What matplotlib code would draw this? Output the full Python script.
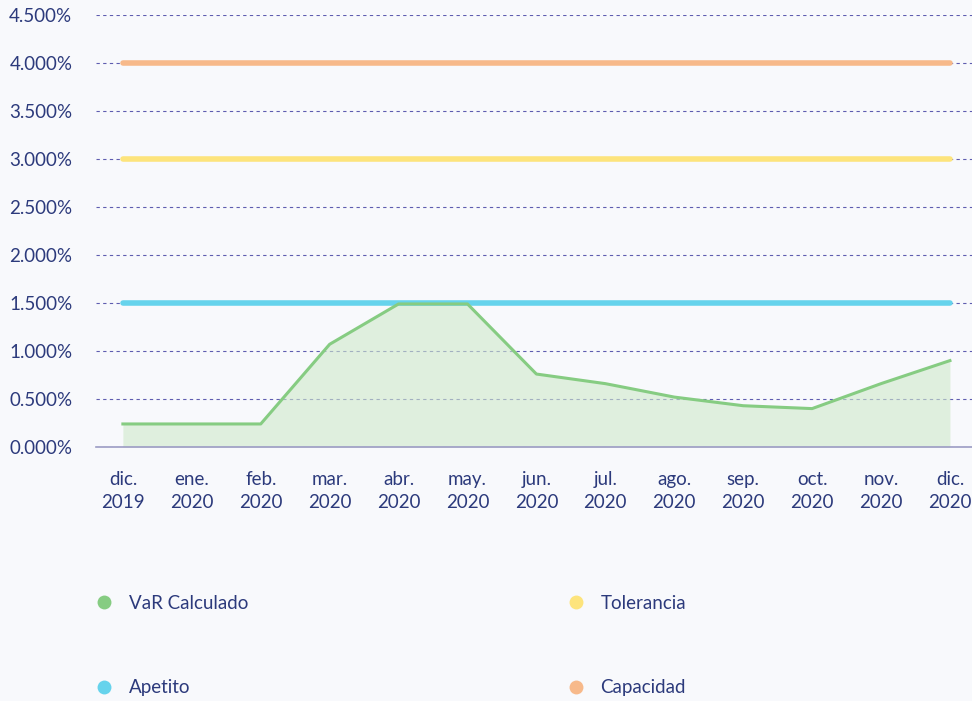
import matplotlib.pyplot as plt
from matplotlib.lines import Line2D
from matplotlib.ticker import FuncFormatter

# datos
meses = ['dic.\n2019', 'ene.\n2020', 'feb.\n2020', 'mar.\n2020', 'abr.\n2020', 'may.\n2020',
         'jun.\n2020', 'jul.\n2020', 'ago.\n2020', 'sep.\n2020', 'oct.\n2020', 'nov.\n2020',
         'dic.\n2020']
var_calculado = [0.24, 0.24, 0.24, 1.07, 1.49, 1.49, 0.76, 0.66, 0.52, 0.43, 0.40, 0.66, 0.90]
apetito = 1.5
tolerancia = 3.0
capacidad = 4.0

c_var = '#86cc82'
c_ape = '#66d3ec'
c_tol = '#fde47c'
c_cap = '#f7b98a'
c_txt = '#2c3a7c'
bg = '#f8f9fc'

plt.rcParams['font.family'] = ['Lato', 'DejaVu Sans']
plt.rcParams['font.size'] = 13

fig = plt.figure(figsize=(9.72, 7.01), dpi=100, facecolor=bg)
ax = fig.add_axes([96 / 972, 1 - 447 / 701, 1 - 96 / 972, (447 - 15) / 701])
ax.set_facecolor(bg)

x = list(range(len(meses)))
ax.fill_between(x, var_calculado, 0, color='#cfe9cb', alpha=0.6, lw=0, zorder=2)
ax.plot(x, var_calculado, color=c_var, lw=2.2, zorder=4)
ax.plot([x[0], x[-1]], [apetito] * 2, color=c_ape, lw=4, solid_capstyle='round', zorder=3)
ax.plot([x[0], x[-1]], [tolerancia] * 2, color=c_tol, lw=4, solid_capstyle='round', zorder=3)
ax.plot([x[0], x[-1]], [capacidad] * 2, color=c_cap, lw=4, solid_capstyle='round', zorder=3)

ax.set_xlim(-0.39, 12.32)
ax.set_ylim(0, 4.5)
ax.set_yticks([i * 0.5 for i in range(10)])
ax.yaxis.set_major_formatter(FuncFormatter(lambda v, p: f'{v:.3f}%'))
ax.set_xticks(x)
ax.set_xticklabels(meses, linespacing=1.45)
ax.grid(axis='y', color='#5f5db0', ls=(0, (3, 3)), lw=0.8, zorder=1)
ax.tick_params(length=0, colors=c_txt, labelsize=13.5)
ax.tick_params(axis='y', pad=17)
ax.tick_params(axis='x', pad=17)
for s in ['top', 'right', 'left']:
    ax.spines[s].set_visible(False)
ax.spines['bottom'].set_color('#9c9cc4')
ax.spines['bottom'].set_linewidth(1.2)

def punto(c):
    return Line2D([], [], marker='o', color='none', markerfacecolor=c,
                  markeredgecolor='none', markersize=10)

handles = [punto(c_var), punto(c_ape), punto(c_tol), punto(c_cap)]
labels = ['VaR Calculado', 'Apetito', 'Tolerancia', 'Capacidad']
leg = fig.legend(handles, labels, ncol=2, loc='upper left', bbox_to_anchor=(78 / 972, 1 - 578 / 701),
                 frameon=False, fontsize=13.5, labelspacing=3.6, columnspacing=17.0,
                 handletextpad=0.8, handlelength=1.0)
for t in leg.get_texts():
    t.set_color(c_txt)

plt.savefig('out.png', dpi=100, facecolor=bg)
